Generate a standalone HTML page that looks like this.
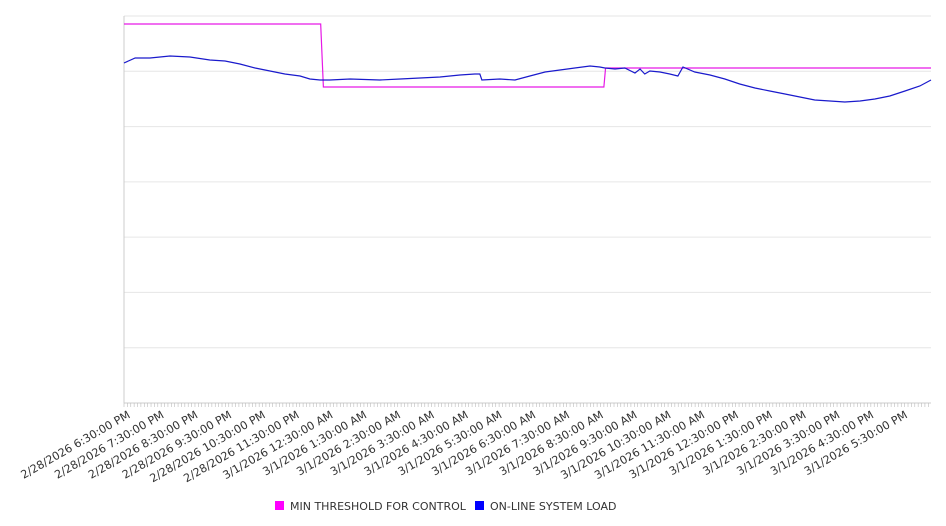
<!DOCTYPE html>
<html><head><meta charset="utf-8"><style>
body{margin:0;background:#fff;font-family:"Liberation Sans","DejaVu Sans",sans-serif}
svg{display:block}
</style></head><body>
<svg id="chart" width="946" height="526"></svg>
<script>
const hours=[0,.33,.77,1.36,1.95,2.54,2.99,3.43,3.88,4.32,4.76,5.21,5.5,5.8,6.09,6.69,7.57,8.17,8.76,9.35,9.94,10.38,10.53,10.59,11.12,11.57,12.01,12.46,12.9,13.34,13.79,14.08,14.23,14.53,14.82,15.12,15.27,15.41,15.56,15.86,16.15,16.39,16.54,16.89,17.34,17.78,18.22,18.67,19.11,19.56,20,20.44,20.89,21.33,21.78,22.22,22.66,23.11,23.55,23.88];
const load=[340,345,345,347,346,343,342,339,335,332,329,327,324,323,323,324,323,324,325,326,328,329,329,323,324,323,327,331,333,335,337,336,335,334,335,330,334,329,332,331,329,327,336,331,328,324,319,315,312,309,306,303,302,301,302,304,307,312,317,323];
const thrHours=[0,5.82,5.9,14.2,14.25,23.88];
const thrVals=[379,379,316,316,335,335];
const tickLabels=["2/28/2026 6:30:00 PM","2/28/2026 7:30:00 PM","2/28/2026 8:30:00 PM","2/28/2026 9:30:00 PM","2/28/2026 10:30:00 PM","2/28/2026 11:30:00 PM","3/1/2026 12:30:00 AM","3/1/2026 1:30:00 AM","3/1/2026 2:30:00 AM","3/1/2026 3:30:00 AM","3/1/2026 4:30:00 AM","3/1/2026 5:30:00 AM","3/1/2026 6:30:00 AM","3/1/2026 7:30:00 AM","3/1/2026 8:30:00 AM","3/1/2026 9:30:00 AM","3/1/2026 10:30:00 AM","3/1/2026 11:30:00 AM","3/1/2026 12:30:00 PM","3/1/2026 1:30:00 PM","3/1/2026 2:30:00 PM","3/1/2026 3:30:00 PM","3/1/2026 4:30:00 PM","3/1/2026 5:30:00 PM"];
const X0=124,X1=931,Y0=403,Y1=16,HMAX=23.88,VMAX=387;
const sx=h=>X0+h/HMAX*(X1-X0);
const sy=v=>Y0-v/VMAX*(Y0-Y1);
const NS="http://www.w3.org/2000/svg";
const svg=document.getElementById('chart');
function mk(t,a){const e=document.createElementNS(NS,t);for(const k in a)e.setAttribute(k,a[k]);svg.appendChild(e);return e;}
for(let i=0;i<=7;i++){const y=Y0-i*(Y0-Y1)/7;
const g=mk('line',{x1:X0,x2:X1,y1:y,y2:y,stroke:'#e6e6e6','stroke-width':1});

}
const ya=mk('line',{x1:X0,x2:X0,y1:Y1,y2:Y0,stroke:'#ccc'});


const xa=mk('line',{x1:X0,x2:X1,y1:Y0,y2:Y0,stroke:'#ccc'});


for(let h=0;h<=HMAX;h+=0.1){const x=sx(h);
const t=mk('line',{x1:x,x2:x,y1:Y0,y2:Y0+4,stroke:'#bbb','stroke-width':0.6});

}
tickLabels.forEach((s,i)=>{const x=sx(i)+7,y=417;
const t=mk('text',{x:x,y:y,'text-anchor':'end','font-size':11.2,fill:'#333',transform:`rotate(-30 ${x} ${y})`,'font-family':'"DejaVu Sans","Liberation Sans",sans-serif'});
t.textContent=s;

});
const tp=mk('polyline',{points:thrHours.map((h,i)=>sx(h)+','+sy(thrVals[i])).join(' '),fill:'none',stroke:'#e619e6','stroke-width':1.2});


const lp=mk('polyline',{points:hours.map((h,i)=>sx(h)+','+sy(load[i])).join(' '),fill:'none',stroke:'#1a1acc','stroke-width':1.2});


const legend=[["#ff00ff","MIN THRESHOLD FOR CONTROL",275],["#0000ff","ON-LINE SYSTEM LOAD",475]];
legend.forEach(([c,s,x])=>{
const r=mk('rect',{x:x,y:501,width:9,height:9,fill:c});


const t=mk('text',{x:x+15,y:510,'font-size':11,fill:'#333','font-family':'"DejaVu Sans","Liberation Sans",sans-serif'});
t.textContent=s;

});
</script>
</body></html>
